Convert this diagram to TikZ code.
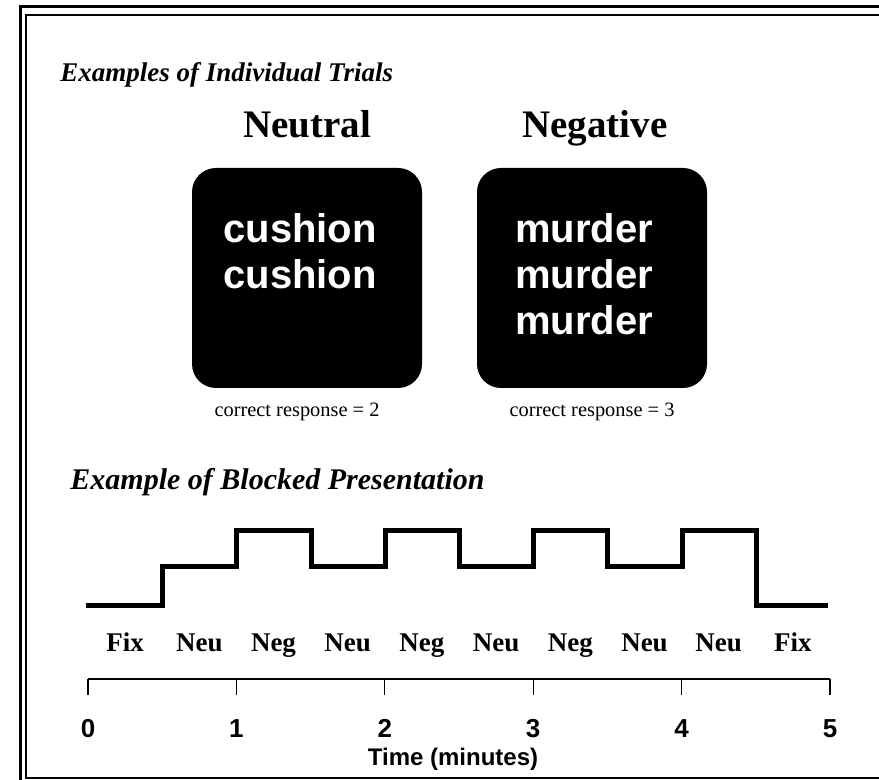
\documentclass[tikz,border=0pt]{standalone}
\usepackage{fontspec}
\setmainfont{Liberation Serif}
\setsansfont{Liberation Sans}

\begin{document}
\begin{tikzpicture}[x=0.5pt,y=-0.5pt,
    heading/.style={anchor=base west, inner sep=0pt, font=\fontsize{13.5}{16}\selectfont\bfseries\itshape},
    condname/.style={anchor=base, inner sep=0pt, font=\fontsize{19.5}{23}\selectfont\bfseries},
    trialbox/.style={fill=black, rounded corners=12pt, minimum width=115pt, minimum height=110pt, inner sep=0pt},
    word/.style={anchor=base west, inner sep=0pt, text=white, font=\sffamily\bfseries\fontsize{20}{23}\selectfont},
    response/.style={anchor=base, inner sep=0pt, font=\fontsize{10.2}{12}\selectfont},
    blocklabel/.style={anchor=base, inner sep=0pt, font=\fontsize{13.5}{16}\selectfont\bfseries},
    ticknum/.style={anchor=base, inner sep=0pt, font=\sffamily\bfseries\fontsize{13}{15}\selectfont},
    stepline/.style={line width=2.5pt},
    axisline/.style={line width=0.6pt}]
    \clip (0,0) rectangle (879,780);

    % frame
    \draw[line width=1.5pt] (20,7) rectangle (900,800);
    \draw[line width=0.8pt] (26,15) rectangle (890,778);

    % individual trials
    \node[heading] (trialstitle) at (60,82) {Examples of Individual Trials};
    \node[condname] (neutral) at (307,138) {Neutral};
    \node[condname] (negative) at (595,138) {Negative};

    \node[trialbox] (neutralbox) at (307,278) {};
    \node[trialbox] (negativebox) at (592,278) {};

    \foreach \i in {0,1}
        \node[word] (cushion\i) at (223,{243+46*\i}) {cushion};
    \foreach \i in {0,1,2}
        \node[word] (murder\i) at (515,{243+46*\i}) {murder};

    \node[response] (neutralresp) at (297,417) {correct response = 2};
    \node[response] (negativeresp) at (592,417) {correct response = 3};

    % blocked presentation
    \node[heading, font=\fontsize{15}{18}\selectfont\bfseries\itshape] (blocktitle) at (70,490) {Example of Blocked Presentation};

    \draw[stepline] (86,606) -| (162,567) -| (236,531) -| (311,567) -| (385,531)
        -| (459,567) -| (533,531) -| (607,567) -| (682,531) -| (756,606) -- (828,606);

    \foreach \lab [count=\i from 0] in {Fix,Neu,Neg,Neu,Neg,Neu,Neg,Neu,Neu,Fix}
        \node[blocklabel] (block\i) at ({88+74.2*(\i+0.5)},652) {\lab};

    % time axis
    \draw[axisline] (88,679) -- (830,679);
    \foreach \m in {0,...,5} {
        \draw[axisline] ({88+148.4*\m},679) -- ++(0,16);
        \node[ticknum] (min\m) at ({88+148.4*\m},737) {\m};
    }
    \node[ticknum, font=\sffamily\bfseries\fontsize{12}{14}\selectfont] (timelabel) at (453,765) {Time (minutes)};
\end{tikzpicture}
\end{document}
